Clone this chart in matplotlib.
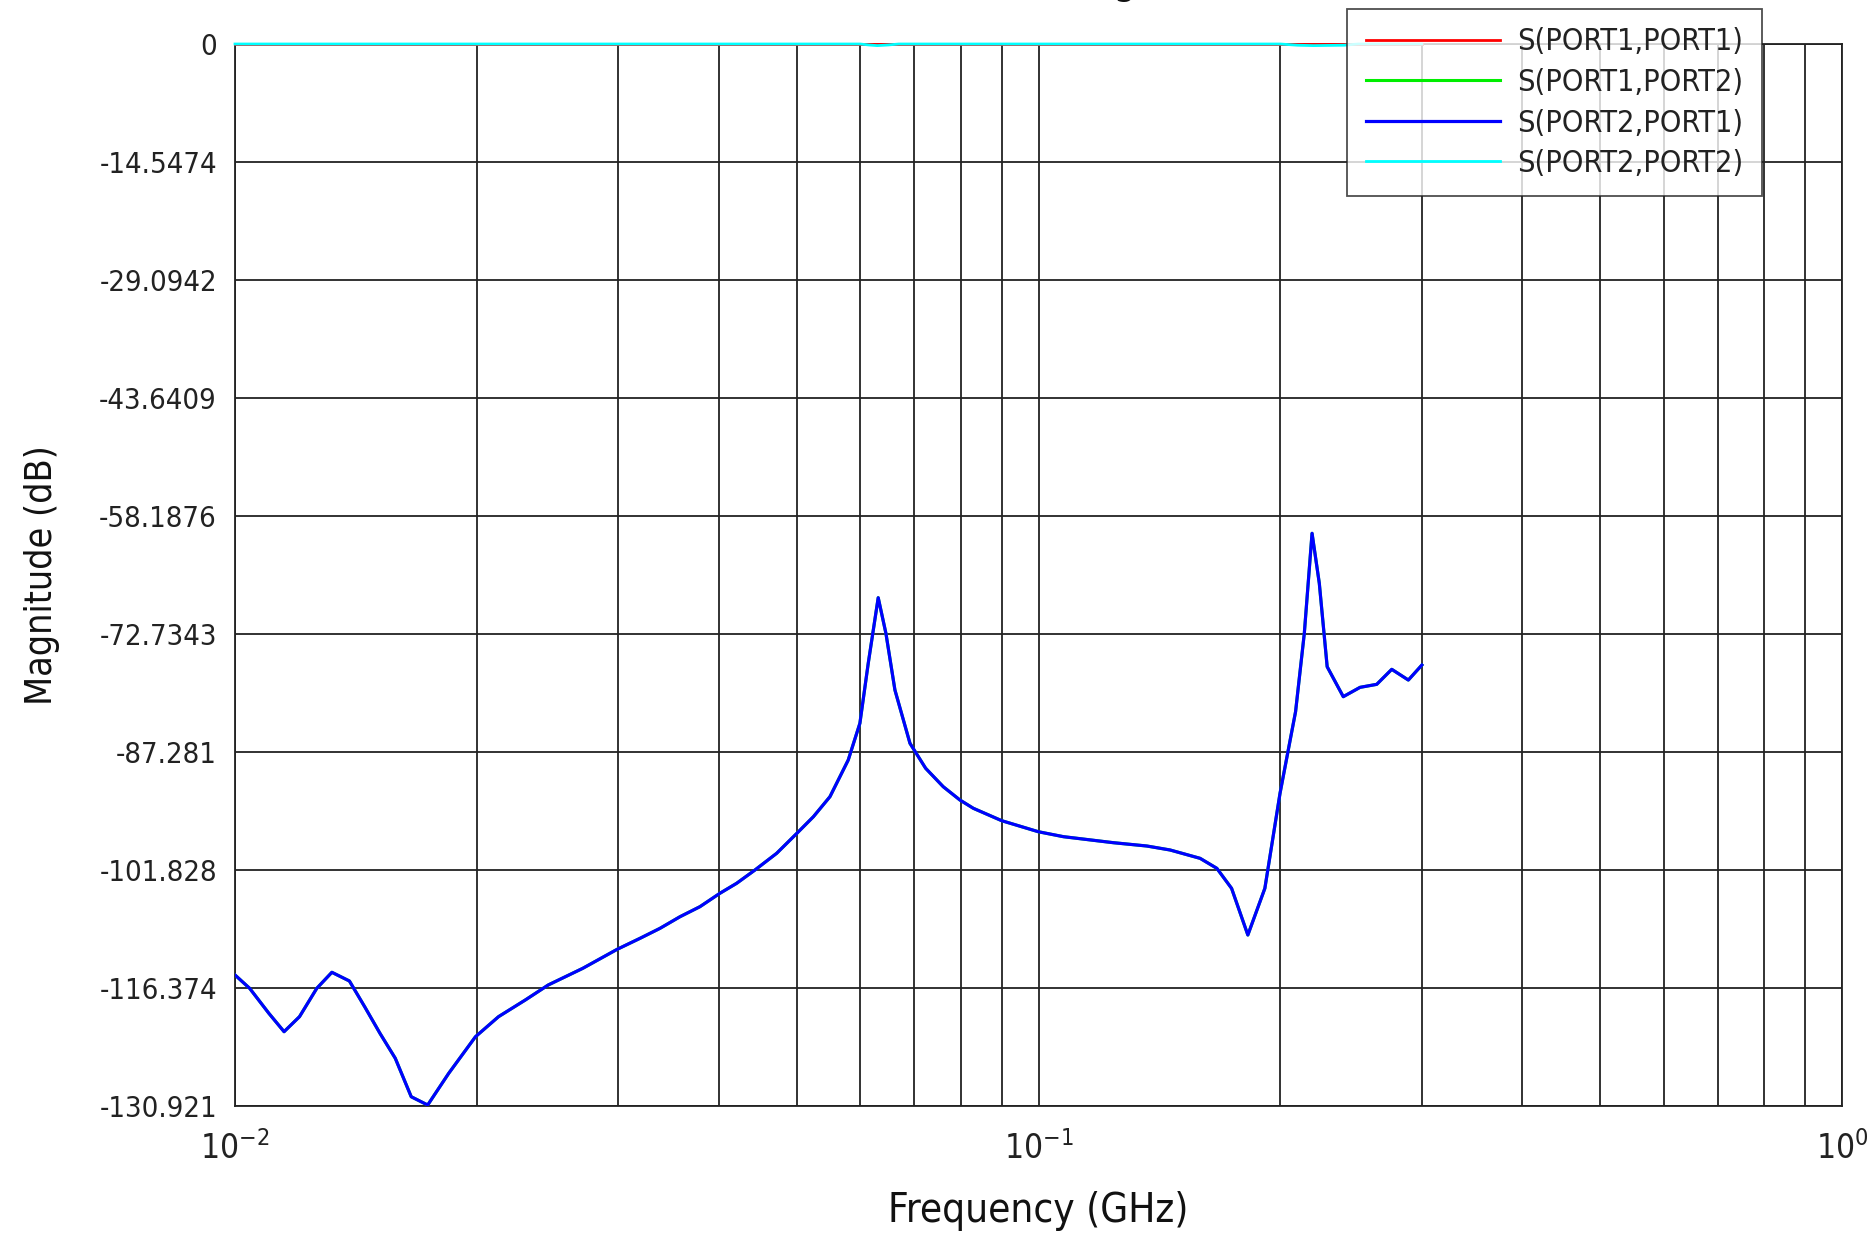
import matplotlib
matplotlib.use("Agg")
import matplotlib.pyplot as plt
import matplotlib.ticker as mticker

# S21 (GHz, dB)
freq = [0.01, 0.01043, 0.01102, 0.01151, 0.01203, 0.01264, 0.01320, 0.01388,
        0.01450, 0.01515, 0.01583, 0.01657, 0.01737, 0.01845, 0.01992, 0.02128,
        0.02298, 0.02454, 0.02709, 0.02989, 0.03192, 0.03380, 0.03579, 0.03790,
        0.04013, 0.04210, 0.04437, 0.04722, 0.05003, 0.05246, 0.05501, 0.05797,
        0.05994, 0.06139, 0.06317, 0.06458, 0.06627, 0.06919, 0.07237, 0.07611,
        0.07984, 0.08296, 0.0900, 0.09996, 0.1074, 0.1239, 0.1364, 0.1458,
        0.1589, 0.1667, 0.1739, 0.1822, 0.1913, 0.1998, 0.2089, 0.2142,
        0.2190, 0.2236, 0.2287, 0.2395, 0.2513, 0.2636, 0.2752, 0.2886, 0.3]
s21 = [-114.77, -116.42, -119.50, -121.76, -119.91, -116.42, -114.44, -115.51,
       -118.68, -121.96, -125.04, -129.78, -130.80, -126.89, -122.38, -119.91,
       -117.85, -116.00, -113.95, -111.61, -110.25, -109.02, -107.59, -106.35,
       -104.70, -103.47, -101.83, -99.77, -97.31, -95.26, -92.79, -88.27,
       -83.74, -76.35, -68.26, -72.65, -79.64, -86.21, -89.29, -91.56,
       -93.20, -94.22, -95.75, -97.11, -97.72, -98.46, -98.87, -99.36,
       -100.39, -101.62, -104.09, -109.84, -104.09, -92.37, -82.31, -72.65,
       -60.32, -66.48, -76.77, -80.46, -79.31, -78.94, -77.09, -78.41, -76.56]
s12 = s21  # reciprocal, hidden under S21

# reflection terms stay at ~0 dB, tiny dips at the resonances
freq_r = [0.01, 0.060, 0.0615, 0.063, 0.065, 0.067, 0.20, 0.21, 0.22, 0.24, 0.25, 0.3]
s11 = [0, 0, 0, 0, 0, 0, 0, 0, 0, 0, 0, 0]
s22 = [0, 0, -0.12, -0.2, -0.12, 0, 0, -0.15, -0.2, -0.15, 0, 0]

yticks = [0, -14.5474, -29.0942, -43.6409, -58.1876, -72.7343, -87.281,
          -101.828, -116.374, -130.921]
ytick_labels = ['0', '-14.5474', '-29.0942', '-43.6409', '-58.1876', '-72.7343',
                '-87.281', '-101.828', '-116.374', '-130.921']

plt.rcParams['font.family'] = ['DejaVu Sans']
plt.rcParams['font.stretch'] = 'condensed'
plt.rcParams['mathtext.fontset'] = 'dejavusans'

fig = plt.figure(figsize=(18.72, 12.33), dpi=100)
ax = fig.add_axes([235/1872, 1 - 1106/1233, 1607/1872, 1062/1233])

ax.plot(freq_r, s11, color='#ff0000', lw=2.0, label='S(PORT1,PORT1)', zorder=3, clip_on=False)
ax.plot(freq, s12, color='#00ee00', lw=2.2, label='S(PORT1,PORT2)', zorder=3)
ax.plot(freq, s21, color='#0000ff', lw=2.3, label='S(PORT2,PORT1)', zorder=3)
ax.plot(freq_r, s22, color='#00ffff', lw=2.0, label='S(PORT2,PORT2)', zorder=3, clip_on=False)

ax.set_xscale('log')
ax.set_xlim(0.01, 1)
ax.set_ylim(-130.921, 0)
ax.set_yticks(yticks)
ax.set_yticklabels(ytick_labels)
ax.xaxis.set_major_locator(mticker.FixedLocator([0.01, 0.1, 1]))
ax.xaxis.set_major_formatter(mticker.FixedFormatter([r'$10^{-2}$', r'$10^{-1}$', r'$10^{0}$']))
ax.xaxis.set_minor_locator(mticker.LogLocator(base=10, subs=range(2, 10)))
ax.xaxis.set_minor_formatter(mticker.NullFormatter())

ax.grid(True, which='both', axis='x', color='#222222', lw=1.3)
ax.grid(True, which='major', axis='y', color='#222222', lw=1.3)
ax.set_axisbelow(True)
ax.tick_params(which='both', length=0)
ax.tick_params(axis='y', pad=13, labelsize=21, labelcolor='#222222')
ax.tick_params(axis='x', pad=18, labelsize=24, labelcolor='#222222')
for side in ['left', 'bottom', 'right', 'top']:
    ax.spines[side].set_color('#222222')
    ax.spines[side].set_linewidth(1.3)
    ax.spines[side].set_zorder(2.5)

ax.set_ylabel('Magnitude (dB)', fontsize=27, color='#111111', labelpad=28)
ax.set_xlabel('Frequency (GHz)', fontsize=29, color='#111111', labelpad=18)

# title sits above the canvas, only the descender of the g shows
fig.text(1158/1872, 1.006, 'Magnitude', ha='center', va='baseline',
         fontsize=30, color='#111111')

leg = ax.legend(loc='upper right', bbox_to_anchor=(0.950, 1.033), borderaxespad=0,
                fontsize=22, frameon=True, fancybox=False, handlelength=4.4,
                handletextpad=0.55, borderpad=0.6, labelspacing=0.38)
leg.set_zorder(5)
leg.get_frame().set_edgecolor('#222222')
leg.get_frame().set_linewidth(1.3)
for t in leg.get_texts():
    t.set_color('#222222')

fig.savefig('out.png', dpi=100)
